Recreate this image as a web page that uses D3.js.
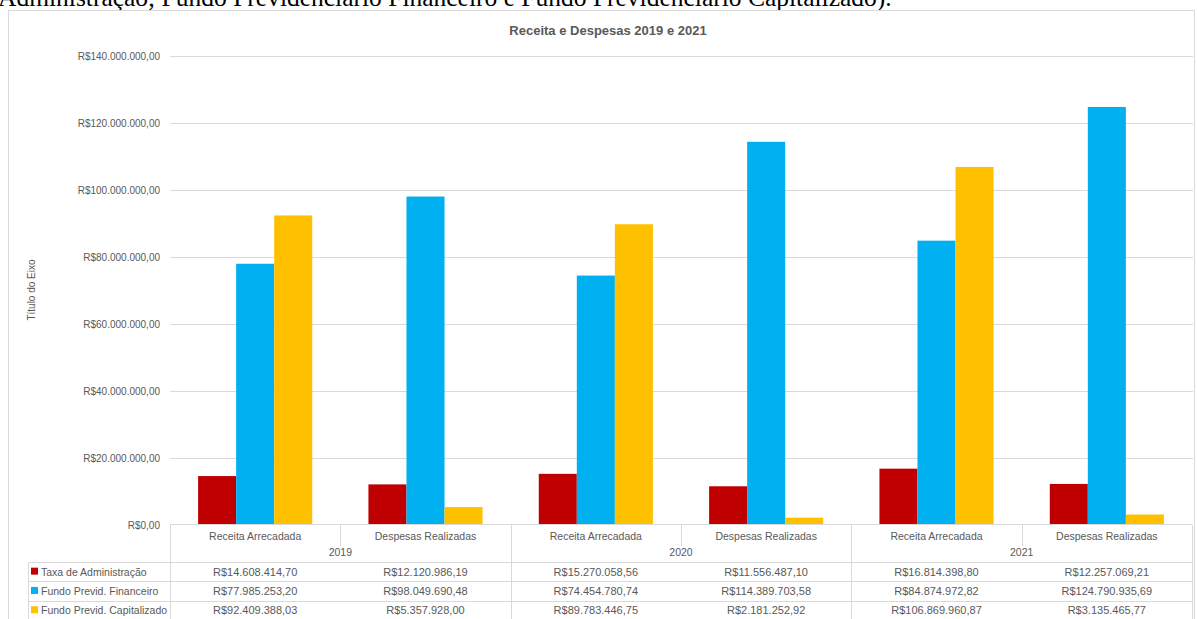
<!DOCTYPE html>
<html>
<head>
<meta charset="utf-8">
<script src="https://cdn.jsdelivr.net/npm/d3@7"></script>
<style>
  body { margin: 0; background: #fff; overflow: hidden; }
  svg { display: block; }
  text { font-family: "Liberation Sans", Arial, sans-serif; fill: #595959; }
</style>
</head>
<body>
<svg id="svg1" width="1197" height="619"></svg>
<script>
var years = ["2019", "2020", "2021"];
var kinds = ["Receita Arrecadada", "Despesas Realizadas"];
var series = ["Taxa de Administração", "Fundo Previd. Financeiro", "Fundo Previd. Capitalizado"];
var colors = ["#c00000", "#00b0f0", "#ffc000"];

// one value per (year, kind), in order 2019 RA, 2019 DR, 2020 RA, ...
var taxaAdm = [14608414.70, 12120986.19, 15270058.56, 11556487.10, 16814398.80, 12257069.21];
var fundoFin = [77985253.20, 98049690.48, 74454780.74, 114389703.58, 84874972.82, 124790935.69];
var fundoCap = [92409388.03, 5357928.00, 89783446.75, 2181252.92, 106869960.87, 3135465.77];
var yTicks = [0, 20e6, 40e6, 60e6, 80e6, 100e6, 120e6, 140e6];

var values = [taxaAdm, fundoFin, fundoCap];

var br = d3.formatLocale({decimal: ",", thousands: ".", grouping: [3], currency: ["R$", ""]});
var money = br.format("$,.2f");

var svg = d3.select('svg');

var plotLeft = 170, plotRight = 1192, plotTop = 56, plotBottom = 525;

var cats = [];
years.forEach(function(yr) {
  kinds.forEach(function(k) { cats.push(yr + "|" + k); });
});

var x = d3.scaleBand().domain(cats).range([plotLeft, plotRight]).paddingInner(0.33).paddingOuter(0.165);
var xCell = d3.scaleBand().domain(cats).range([plotLeft, plotRight]);
var xSub = d3.scaleBand().domain(series).range([0, x.bandwidth()]);
var y = d3.scaleLinear().domain([0, 140e6]).range([plotBottom, plotTop]);

// sheet text cut off at the top
svg.append("text")
   .attr("x", -2).attr("y", 6)
   .style("font-family", "'Liberation Serif', 'Times New Roman', serif")
   .style("font-size", "25.5px")
   .style("fill", "#000")
   .text("Administração; Fundo Previdenciário Financeiro e Fundo Previdenciário Capitalizado).");

// chart frame
svg.append("rect")
   .attr("x", 8.5).attr("y", 10.5).attr("width", 1186).attr("height", 620)
   .attr("fill", "#fff").attr("stroke", "#d9d9d9");

svg.append("text")
   .attr("x", 608).attr("y", 35)
   .attr("text-anchor", "middle")
   .style("font-size", "13px").style("font-weight", "bold")
   .text("Receita e Despesas 2019 e 2021");

// gridlines + labels
svg.append("g").selectAll("line")
   .data(yTicks.slice(1))
   .enter().append("line")
   .attr("x1", plotLeft).attr("x2", plotRight + 1)
   .attr("y1", function(d) { return Math.round(y(d)) + 0.5; })
   .attr("y2", function(d) { return Math.round(y(d)) + 0.5; })
   .attr("stroke", "#d9d9d9");

svg.append("g").selectAll("text")
   .data(yTicks)
   .enter().append("text")
   .attr("x", 160)
   .attr("y", function(d) { return y(d) + 4; })
   .attr("text-anchor", "end")
   .style("font-size", "10px")
   .text(function(d) { return money(d); });

svg.append("text")
   .attr("transform", "translate(35,290) rotate(-90)")
   .attr("text-anchor", "middle")
   .style("font-size", "10px")
   .text("Título do Eixo");

// bars
series.forEach(function(s, si) {
  svg.append("g").selectAll("rect")
     .data(values[si])
     .enter().append("rect")
     .attr("x", function(d, i) { return x(cats[i]) + xSub(s); })
     .attr("width", xSub.bandwidth())
     .attr("y", function(d) { return y(d); })
     .attr("height", function(d) { return plotBottom - y(d); })
     .attr("fill", colors[si]);
});

// data table
var tbl = svg.append("g").attr("stroke", "#d9d9d9").attr("fill", "none");
var rowTop = 562, rowH = 19.3, catH = 21;

tbl.append("line").attr("x1", plotLeft).attr("x2", plotRight).attr("y1", plotBottom - 0.5).attr("y2", plotBottom - 0.5);
cats.forEach(function(c, i) {
  var xx = Math.round(xCell(c)) + 0.5;
  var y2 = (i % 2 === 0) ? 640 : plotBottom + catH;
  tbl.append("line").attr("x1", xx).attr("x2", xx).attr("y1", plotBottom).attr("y2", y2);
});
tbl.append("line").attr("x1", plotRight + 0.5).attr("x2", plotRight + 0.5).attr("y1", plotBottom).attr("y2", 640);
tbl.append("line").attr("x1", 28.5).attr("x2", 28.5).attr("y1", rowTop).attr("y2", 640);
series.forEach(function(s, si) {
  var yy = Math.round(rowTop + si * rowH) + 0.5;
  tbl.append("line").attr("x1", 28).attr("x2", plotRight).attr("y1", yy).attr("y2", yy);
});

svg.append("g").selectAll("text")
   .data(cats)
   .enter().append("text")
   .attr("x", function(d) { return xCell(d) + xCell.bandwidth() / 2; })
   .attr("y", plotBottom + 15)
   .attr("text-anchor", "middle")
   .style("font-size", "10.5px")
   .text(function(d) { return d.split("|")[1]; });

svg.append("g").selectAll("text")
   .data(years)
   .enter().append("text")
   .attr("x", function(d) { return xCell(d + "|" + kinds[1]); })
   .attr("y", plotBottom + 31)
   .attr("text-anchor", "middle")
   .style("font-size", "10.5px")
   .text(function(d) { return d; });

series.forEach(function(s, si) {
  var cy = rowTop + si * rowH + rowH / 2;
  svg.append("rect")
     .attr("x", 31).attr("y", cy - 4).attr("width", 7).attr("height", 7)
     .attr("fill", colors[si]);
  svg.append("text")
     .attr("x", 41).attr("y", cy + 4)
     .style("font-size", "10.5px")
     .text(s);
  svg.append("g").selectAll("text")
     .data(values[si])
     .enter().append("text")
     .attr("x", function(d, i) { return xCell(cats[i]) + xCell.bandwidth() / 2; })
     .attr("y", cy + 4)
     .attr("text-anchor", "middle")
     .style("font-size", "11px")
     .text(function(d) { return money(d); });
});
</script>
</body>
</html>
